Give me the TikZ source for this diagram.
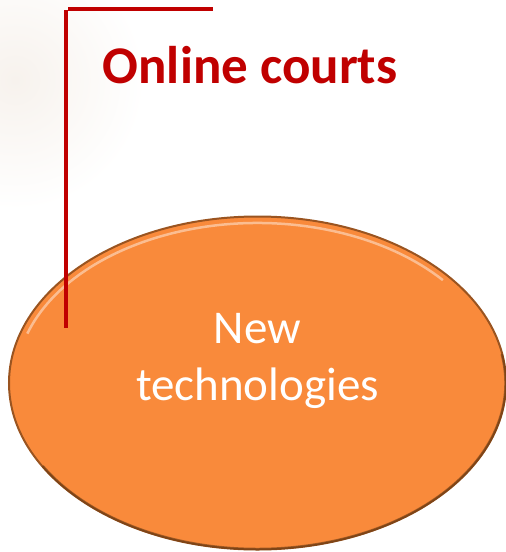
\documentclass[tikz,border=0pt]{standalone}
\usepackage{fontspec}
\setmainfont{Carlito}
\usetikzlibrary{shapes.geometric, positioning}
\definecolor{courtred}{HTML}{C00000}
\definecolor{techorange}{HTML}{F98A3B}
\definecolor{rimbrown}{HTML}{9A5420}
\definecolor{darkrim}{HTML}{6B3A12}
\definecolor{haze}{HTML}{F7F2ED}
\tikzstyle{heading} = [text=courtred, font=\fontsize{53}{60}\selectfont\bfseries, inner sep=0pt, anchor=base]
\tikzstyle{topic} = [ellipse, minimum width=497pt, minimum height=333pt, fill=techorange, draw=rimbrown, line width=2pt, inner sep=0pt]
\tikzstyle{topiclabel} = [text=white, align=center, font=\fontsize{47}{57}\selectfont, inner sep=0pt]
\tikzstyle{bracket} = [draw=courtred, line width=3.5pt]
\tikzstyle{highlight} = [draw=white!55!techorange, line width=2.5pt, opacity=0.8]
\tikzstyle{rimshade} = [draw=darkrim, line width=2.5pt, opacity=0.6]

\begin{document}
\begin{tikzpicture}[x=1pt, y=-1pt]
    \useasboundingbox (0,0) rectangle (506,552);
    % Background
    \begin{scope}
        \clip (0,0) rectangle (506,552);
        \shade[inner color=haze, outer color=white] (15,80) circle (130);
    \end{scope}

    % Nodes
    \node [topic] (tech) at (257.5,383) {};
    \draw [highlight] (tech.center) ++(-162:242 and 160) arc (-162:-40:242 and 160);
    \draw [rimshade] (tech.center) ++(-10:248 and 166) arc (-10:150:248 and 166);
    \node [topiclabel] (techlabel) at ([yshift=22pt]tech.center) {New\\technologies};
    \node [heading] (title) at (250,83) {Online courts};

    % Bracket
    \coordinate (cornertop) at (66,10);
    \coordinate (cornerend) at (66,328);
    \coordinate (bartop) at (68,9);
    \coordinate (barend) at (213,9);
    \path [bracket] (cornertop) -- (cornerend);
    \path [bracket] (bartop) -- (barend);
\end{tikzpicture}
\end{document}
